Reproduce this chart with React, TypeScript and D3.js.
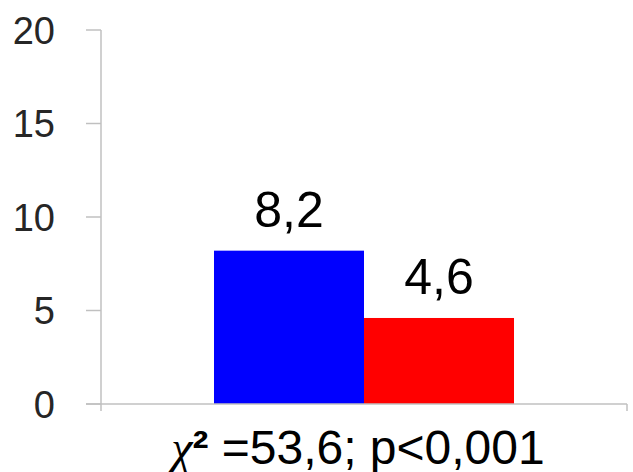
import React from 'react'
import * as d3 from 'd3'

// chart data
const categories = ['χ² =53,6; p<0,001']
const seriesNames = ['group1', 'group2']
const seriesValues = [8.2, 4.6]
const seriesColors = ['#0000ff', '#ff0000']
const valueLabels = ['8,2', '4,6']
const yTicks = [0, 5, 10, 15, 20]

const W = 633
const H = 472
const left = 101
const right = 627
const top = 30
const bottom = 404

export default function App() {
  const x = d3.scaleBand().domain(categories).range([left, right]).padding(0.2736)
  const xs = d3.scaleBand().domain(seriesNames).range([0, x.bandwidth()])
  const y = d3.scaleLinear().domain([0, 20]).range([bottom, top])
  const axisColor = '#c0c0c0'
  const font = '"Liberation Sans", Arial, sans-serif'

  return (
    <svg width={W} height={H} style={{ position: 'absolute', left: 0, top: 0, background: '#fff' }}>
      {/* y axis */}
      <line x1={left} x2={left} y1={y(20)} y2={bottom + 7} stroke={axisColor} strokeWidth={1.5} />
      {yTicks.map(t => (
        <g key={t}>
          <line x1={left - 15} x2={left} y1={y(t)} y2={y(t)} stroke={axisColor} strokeWidth={1.5} />
          <text x={55} y={y(t)} dy="0.36em" textAnchor="end" fontFamily={font} fontSize={38} fill="#262626">
            {t}
          </text>
        </g>
      ))}

      {/* bars */}
      {categories.map(c =>
        seriesNames.map((s, i) => (
          <g key={c + s}>
            <rect
              x={(x(c) ?? 0) + (xs(s) ?? 0)}
              y={y(seriesValues[i])}
              width={xs.bandwidth()}
              height={bottom - y(seriesValues[i])}
              fill={seriesColors[i]}
            />
            <text
              x={(x(c) ?? 0) + (xs(s) ?? 0) + xs.bandwidth() / 2}
              y={y(seriesValues[i]) - 24}
              textAnchor="middle"
              fontFamily={font}
              fontSize={50}
              fill="#000"
            >
              {valueLabels[i]}
            </text>
          </g>
        ))
      )}

      {/* x axis */}
      <line x1={left - 15} x2={right} y1={bottom} y2={bottom} stroke={axisColor} strokeWidth={1.5} />
      <line x1={right} x2={right} y1={bottom} y2={bottom + 7} stroke={axisColor} strokeWidth={1.5} />
      {categories.map(c => (
        <text
          key={c}
          x={(x(c) ?? 0) + x.bandwidth() / 2 - 6}
          y={464}
          textAnchor="middle"
          fontFamily={font}
          fontSize={48}
          fill="#000"
        >
          <tspan fontFamily='"Liberation Serif", serif' fontStyle="italic">{c.slice(0, 1)}</tspan>
          <tspan fontWeight="bold">{c.slice(1, 2)}</tspan>
          {c.slice(2)}
        </text>
      ))}
    </svg>
  )
}
